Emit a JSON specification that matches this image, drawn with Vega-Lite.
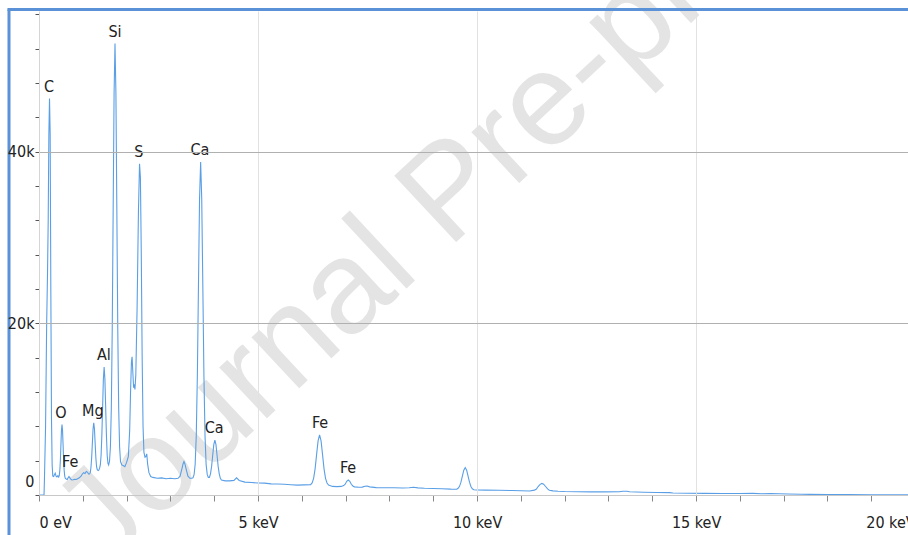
{
  "$schema": "https://vega.github.io/schema/vega-lite/v6.json",
  "width": 898,
  "height": 484,
  "autosize": {"type": "none"},
  "padding": {"left": 39, "top": 11, "right": 0, "bottom": 40},
  "background": "white",
  "config": {
    "view": {"stroke": null},
    "axis": {"labelFont": "DejaVu Sans Condensed", "labelFontSize": 16, "labelColor": "#222222"}
  },
  "datasets": {
    "spectrum": [
      {"e":0,"c":0},{"e":0.115,"c":0},{"e":0.125,"c":2000},{"e":0.15,"c":8000},{"e":0.175,"c":20000},{"e":0.195,"c":26000},{"e":0.21,"c":32000},{"e":0.225,"c":42000},{"e":0.24,"c":46200},{"e":0.255,"c":42000},{"e":0.27,"c":24000},{"e":0.285,"c":9000},{"e":0.3,"c":3500},{"e":0.315,"c":2200},{"e":0.335,"c":2150},{"e":0.355,"c":2400},{"e":0.37,"c":2550},{"e":0.39,"c":2200},{"e":0.41,"c":2100},{"e":0.43,"c":2250},{"e":0.45,"c":2100},
      {"e":0.4625,"c":2270},{"e":0.475,"c":2840},{"e":0.4875,"c":4000},{"e":0.5,"c":5800},{"e":0.5125,"c":7500},{"e":0.525,"c":8200},{"e":0.5375,"c":7500},{"e":0.55,"c":5800},{"e":0.5625,"c":4000},{"e":0.575,"c":2840},{"e":0.5875,"c":2200},{"e":0.6,"c":1950},
      {"e":0.62,"c":1850},{"e":0.645,"c":1800},{"e":0.665,"c":2000},{"e":0.685,"c":2150},{"e":0.705,"c":2000},{"e":0.725,"c":1850},{"e":0.75,"c":1750},{"e":0.78,"c":1780},{"e":0.81,"c":1820},{"e":0.85,"c":1800},{"e":0.88,"c":1900},{"e":0.92,"c":2000},{"e":0.96,"c":2200},{"e":0.99,"c":2450},{"e":1.02,"c":2600},{"e":1.05,"c":2500},{"e":1.08,"c":2750},{"e":1.11,"c":2650},{"e":1.13,"c":2450},
      {"e":1.154,"c":2450},{"e":1.17,"c":2600},{"e":1.186,"c":3200},{"e":1.202,"c":4350},{"e":1.218,"c":6000},{"e":1.234,"c":7700},{"e":1.25,"c":8400},{"e":1.266,"c":7700},{"e":1.282,"c":6000},{"e":1.298,"c":4350},{"e":1.314,"c":3300},{"e":1.33,"c":2950},{"e":1.35,"c":2850},{"e":1.365,"c":2900},
      {"e":1.382,"c":3100},{"e":1.4,"c":3500},{"e":1.417,"c":4600},{"e":1.4345,"c":6900},{"e":1.452,"c":10200},{"e":1.4695,"c":13500},{"e":1.487,"c":14900},{"e":1.5045,"c":13500},{"e":1.522,"c":10200},{"e":1.5395,"c":6900},{"e":1.557,"c":4600},{"e":1.5745,"c":3700},{"e":1.59,"c":3500},
      {"e":1.609,"c":3900},{"e":1.63,"c":5600},{"e":1.651,"c":10100},{"e":1.672,"c":19400},{"e":1.693,"c":33200},{"e":1.714,"c":46800},{"e":1.735,"c":52600},{"e":1.756,"c":46800},{"e":1.777,"c":33200},{"e":1.798,"c":19400},{"e":1.819,"c":10100},{"e":1.84,"c":5600},{"e":1.861,"c":3900},{"e":1.89,"c":3500},{"e":1.93,"c":3400},{"e":1.96,"c":3300},
      {"e":2.0,"c":3800},{"e":2.04,"c":4500},{"e":2.07,"c":7500},{"e":2.09,"c":12000},{"e":2.11,"c":15500},{"e":2.125,"c":16100},{"e":2.14,"c":14500},{"e":2.16,"c":12500},{"e":2.175,"c":12900},{"e":2.19,"c":12300},{"e":2.21,"c":14000},{"e":2.24,"c":22000},{"e":2.27,"c":33000},{"e":2.295,"c":38600},{"e":2.315,"c":37000},{"e":2.335,"c":28000},{"e":2.355,"c":16000},{"e":2.375,"c":8000},{"e":2.395,"c":5000},{"e":2.42,"c":4400},{"e":2.44,"c":4500},{"e":2.46,"c":4800},{"e":2.48,"c":3600},{"e":2.51,"c":2600},{"e":2.55,"c":2150},{"e":2.6,"c":2050},{"e":2.7,"c":1950},{"e":2.8,"c":2000},{"e":2.9,"c":1900},{"e":3.0,"c":1950},{"e":3.1,"c":1900},
      {"e":3.175,"c":1950},{"e":3.22,"c":2200},{"e":3.265,"c":3100},{"e":3.29,"c":3650},{"e":3.31,"c":3900},{"e":3.33,"c":3650},{"e":3.355,"c":3100},{"e":3.4,"c":2200},{"e":3.445,"c":1950},{"e":3.49,"c":1950},
      {"e":3.515,"c":2000},{"e":3.54,"c":2360},{"e":3.565,"c":3570},{"e":3.59,"c":6900},{"e":3.615,"c":13900},{"e":3.64,"c":24300},{"e":3.665,"c":34500},{"e":3.69,"c":38800},{"e":3.715,"c":34500},{"e":3.74,"c":24300},{"e":3.765,"c":13900},{"e":3.79,"c":6900},{"e":3.815,"c":3570},{"e":3.84,"c":2400},{"e":3.865,"c":2050},
      {"e":3.89,"c":2050},{"e":3.915,"c":2470},{"e":3.94,"c":3330},{"e":3.965,"c":4600},{"e":3.99,"c":5870},{"e":4.015,"c":6400},{"e":4.04,"c":5870},{"e":4.065,"c":4600},{"e":4.09,"c":3330},{"e":4.115,"c":2470},{"e":4.14,"c":1950},{"e":4.165,"c":1750},
      {"e":4.25,"c":1650},{"e":4.35,"c":1650},{"e":4.45,"c":1700},{"e":4.51,"c":2000},{"e":4.57,"c":1700},{"e":4.7,"c":1500},{"e":4.85,"c":1450},{"e":5.0,"c":1400},{"e":5.15,"c":1380},{"e":5.3,"c":1300},{"e":5.45,"c":1280},{"e":5.6,"c":1250},{"e":5.75,"c":1200},{"e":5.9,"c":1150},{"e":6.05,"c":1180},{"e":6.2,"c":1200},
      {"e":6.235,"c":1410},{"e":6.269,"c":1940},{"e":6.303,"c":3050},{"e":6.337,"c":4700},{"e":6.371,"c":6300},{"e":6.405,"c":7000},{"e":6.439,"c":6300},{"e":6.473,"c":4700},{"e":6.507,"c":3050},{"e":6.541,"c":1940},{"e":6.575,"c":1400},{"e":6.61,"c":1150},
      {"e":6.7,"c":1000},{"e":6.8,"c":980},{"e":6.9,"c":1000},{"e":6.955,"c":1100},{"e":6.99,"c":1250},{"e":7.025,"c":1600},{"e":7.06,"c":1750},{"e":7.095,"c":1600},{"e":7.13,"c":1250},{"e":7.165,"c":1050},{"e":7.2,"c":950},{"e":7.3,"c":900},{"e":7.38,"c":920},{"e":7.44,"c":1020},{"e":7.49,"c":1050},{"e":7.55,"c":950},{"e":7.7,"c":860},{"e":7.9,"c":850},{"e":8.1,"c":840},{"e":8.3,"c":820},{"e":8.45,"c":850},{"e":8.55,"c":900},{"e":8.65,"c":830},{"e":8.8,"c":780},{"e":9.0,"c":750},{"e":9.2,"c":720},{"e":9.4,"c":680},
      {"e":9.535,"c":670},{"e":9.5675,"c":780},{"e":9.6,"c":1010},{"e":9.6325,"c":1490},{"e":9.665,"c":2200},{"e":9.6975,"c":2900},{"e":9.73,"c":3200},{"e":9.7625,"c":2900},{"e":9.795,"c":2200},{"e":9.8275,"c":1490},{"e":9.86,"c":1000},{"e":9.8925,"c":730},{"e":9.925,"c":620},
      {"e":10.0,"c":590},{"e":10.2,"c":570},{"e":10.5,"c":550},{"e":10.8,"c":520},{"e":11.0,"c":490},{"e":11.2,"c":470},{"e":11.31,"c":570},{"e":11.355,"c":700},{"e":11.395,"c":990},{"e":11.44,"c":1240},{"e":11.48,"c":1350},{"e":11.52,"c":1260},{"e":11.565,"c":990},{"e":11.61,"c":720},{"e":11.65,"c":560},{"e":11.735,"c":480},{"e":11.85,"c":430},
      {"e":12.0,"c":400},{"e":12.3,"c":380},{"e":12.6,"c":370},{"e":12.9,"c":360},{"e":13.25,"c":370},{"e":13.33,"c":440},{"e":13.42,"c":440},{"e":13.48,"c":370},{"e":13.8,"c":320},{"e":14.1,"c":300},{"e":14.4,"c":280},{"e":14.47,"c":230},{"e":14.8,"c":210},{"e":15.2,"c":190},{"e":15.6,"c":180},{"e":16.0,"c":175},{"e":16.3,"c":190},{"e":16.5,"c":150},{"e":16.7,"c":180},{"e":16.9,"c":140},{"e":17.1,"c":120},{"e":17.4,"c":90},{"e":17.6,"c":70},{"e":18.0,"c":50},{"e":18.5,"c":40},{"e":19.0,"c":30},{"e":19.5,"c":20},{"e":20.0,"c":10},{"e":20.5,"c":0}
    ],
    "peaks": [
      {"el":"C","e":0.228,"c":46200},
      {"el":"O","e":0.5,"c":8200},
      {"el":"Fe","e":0.71,"c":2400},
      {"el":"Mg","e":1.23,"c":8400},
      {"el":"Al","e":1.48,"c":14900},
      {"el":"Si","e":1.735,"c":52600},
      {"el":"S","e":2.28,"c":38600},
      {"el":"Ca","e":3.675,"c":38800},
      {"el":"Ca","e":4.0,"c":6400},
      {"el":"Fe","e":6.415,"c":7000},
      {"el":"Fe","e":7.055,"c":1750}
    ]
  },
  "layer": [
    {
      "data": {"values": [{}]},
      "mark": {"type": "text", "text": "Journal Pre-proof", "angle": 317, "align": "left", "baseline": "alphabetic", "font": "Liberation Sans", "fontSize": 132, "color": "#e4e4e4"},
      "encoding": {
        "x": {"datum": 1.5, "type": "quantitative", "title": null},
        "y": {"datum": -8700, "type": "quantitative", "title": null}
      }
    },
    {
      "data": {"name": "spectrum"},
      "mark": {"type": "line", "color": "#5a9fe6", "strokeWidth": 1.1, "interpolate": "linear"},
      "encoding": {
        "x": {
          "field": "e", "type": "quantitative", "title": null,
          "scale": {"domain": [0, 20.5], "nice": false, "zero": false},
          "axis": {
            "values": [0,1,2,3,4,5,6,7,8,9,10,11,12,13,14,15,16,17,18,19,20],
            "tickCount": 100,
            "zindex": 1,
            "labelExpr": "datum.value == 0 ? '0 eV' : (datum.value % 5 == 0 ? datum.value + ' keV' : '')",
            "labelAlign": {"condition": [{"test": "datum.value == 0", "value": "left"}, {"test": "datum.value == 20", "value": "right"}], "value": "center"},
            "labelOverlap": false,
            "labelPadding": 13,
            "grid": true,
            "gridColor": "#e2e2e2",
            "gridOpacity": {"condition": {"test": "datum.value % 5 == 0 && datum.value > 0", "value": 1}, "value": 0},
            "tickSize": 6,
            "tickColor": "#888888",
            "domainColor": "#c8c8c8",
            "title": null
          }
        },
        "y": {
          "field": "c", "type": "quantitative", "title": null,
          "scale": {"domain": [0, 56400], "nice": false},
          "axis": {
            "values": [0,4000,8000,12000,16000,20000,24000,28000,32000,36000,40000,44000,48000,52000,56000],
            "tickCount": 100,
            "zindex": 1,
            "labelExpr": "datum.value == 0 ? '0' : (datum.value % 20000 == 0 ? (datum.value / 1000) + 'k' : '')",
            "labelOverlap": false,
            "labelPadding": 1,
            "labelOffset": {"condition": {"test": "datum.value == 0", "value": -14}, "value": 0},
            "grid": true,
            "gridColor": "#b0b0b0",
            "gridOpacity": {"condition": {"test": "datum.value % 20000 == 0 && datum.value > 0", "value": 1}, "value": 0},
            "tickSize": 4,
            "tickColor": "#555555",
            "domainColor": "#d5d5d5",
            "title": null
          }
        }
      }
    },
    {
      "data": {"name": "peaks"},
      "mark": {"type": "text", "baseline": "bottom", "dy": -4, "font": "DejaVu Sans Condensed", "fontSize": 16, "color": "#222222"},
      "encoding": {
        "x": {"field": "e", "type": "quantitative", "title": null},
        "y": {"field": "c", "type": "quantitative", "title": null},
        "text": {"field": "el"}
      }
    },
    {
      "data": {"values": [{}]},
      "mark": {"type": "rule", "color": "#5b91d7", "strokeWidth": 3},
      "encoding": {
        "x": {"datum": -0.685, "type": "quantitative", "title": null},
        "y": {"datum": -4800, "type": "quantitative", "title": null},
        "y2": {"datum": 56570}
      }
    },
    {
      "data": {"values": [{}]},
      "mark": {"type": "rule", "color": "#5b91d7", "strokeWidth": 3},
      "encoding": {
        "y": {"datum": 56570, "type": "quantitative", "title": null},
        "x": {"datum": -0.72, "type": "quantitative", "title": null},
        "x2": {"datum": 21.5}
      }
    }
  ]
}
